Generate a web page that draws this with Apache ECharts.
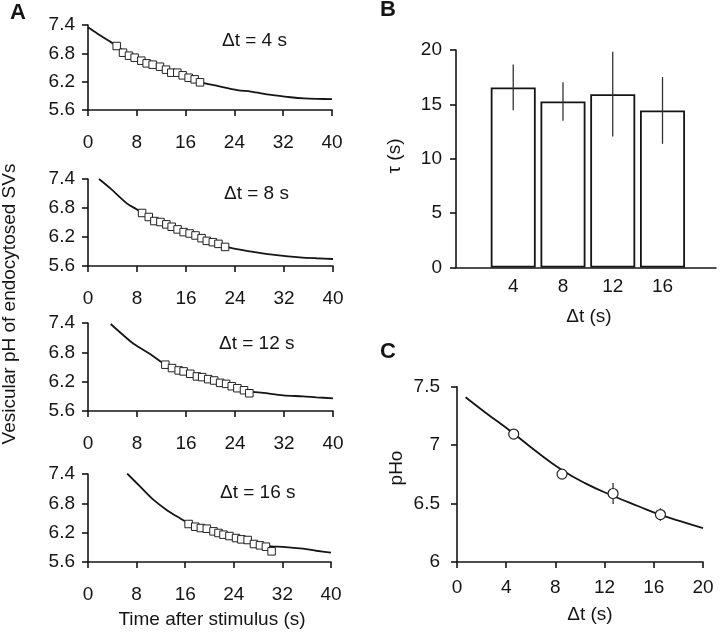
<!DOCTYPE html>
<html>
<head>
<meta charset="utf-8">
<script src="https://cdn.jsdelivr.net/npm/echarts@6/dist/echarts.min.js"></script>
<style>
html,body{margin:0;padding:0;background:#fff;}
#chart{width:720px;height:633px;}
</style>
</head>
<body>
<div id="chart"></div>
<script>
// ---------- Panel A data (time s, vesicular pH) ----------
const A_X_TICKS = [0, 8, 16, 24, 32, 40];
const A_Y_TICKS = [5.6, 6.2, 6.8, 7.4];
const A_LABELS = ['Δt = 4 s', 'Δt = 8 s', 'Δt = 12 s', 'Δt = 16 s'];

const A1_curve = [[0,7.35],[1.5,7.22],[3.2,7.08],[4.7,6.96],[6.7,6.77],[8.7,6.65],[10.6,6.56],[12.8,6.45],[14.6,6.38],[16.5,6.29],[18.4,6.19],[21.2,6.11],[24.5,6.02],[26.7,5.99],[30,5.92],[33.2,5.87],[35.4,5.845],[37.6,5.835],[40,5.83]];
const A1_t  = [4.7,5.74,6.72,7.65,8.74,9.62,10.6,11.8,12.79,13.66,14.64,15.52,16.5,17.49,18.36];
const A1_pH = [6.955,6.814,6.75,6.708,6.644,6.588,6.56,6.517,6.454,6.39,6.39,6.334,6.284,6.249,6.186];

const A2_curve = [[1.8,7.4],[3.7,7.2],[6.4,6.89],[8.0,6.77],[8.8,6.7],[10.8,6.55],[12.8,6.46],[14.6,6.36],[16.6,6.27],[18.5,6.18],[20.4,6.1],[22.4,6.0],[24.8,5.94],[27.5,5.884],[30.8,5.827],[34.6,5.78],[37.3,5.76],[40,5.745]];
const A2_t  = [8.83,9.92,10.84,11.82,12.79,13.66,14.63,15.61,16.59,17.56,18.54,19.4,20.38,21.3,22.38];
const A2_pH = [6.697,6.614,6.53,6.51,6.461,6.412,6.357,6.301,6.273,6.232,6.176,6.12,6.093,6.058,5.995];

const A3_curve = [[3.7,7.38],[5.5,7.18],[7.5,6.97],[10.2,6.76],[12.6,6.55],[14.8,6.43],[16.7,6.36],[18.6,6.29],[20.6,6.22],[22.5,6.155],[24.4,6.07],[26.3,6.0],[28.6,5.97],[31.9,5.92],[35.1,5.9],[37.3,5.88],[40,5.86]];
const A3_t  = [12.63,13.71,14.8,15.61,16.69,17.78,18.64,19.62,20.6,21.57,22.55,23.47,24.39,25.47,26.34];
const A3_pH = [6.547,6.478,6.43,6.41,6.361,6.307,6.293,6.252,6.224,6.176,6.155,6.107,6.066,6.025,5.963];

const A4_curve = [[6.45,7.41],[8.6,7.14],[10.8,6.87],[13,6.66],[15.2,6.49],[16.6,6.39],[18.6,6.3],[20.7,6.23],[22.3,6.16],[24.4,6.09],[26.3,6.03],[28.3,5.96],[30.2,5.92],[32.1,5.91],[35.4,5.872],[37.6,5.83],[40,5.79]];
const A4_t  = [16.56,17.65,18.58,19.56,20.66,21.48,22.3,23.28,24.37,25.25,26.28,27.32,28.31,29.29,30.22];
const A4_pH = [6.377,6.322,6.295,6.281,6.227,6.193,6.159,6.131,6.09,6.063,6.05,5.968,5.94,5.913,5.818];

// ---------- Panel B data ----------
const B_dt  = [4, 8, 12, 16];
const B_tau = [16.56, 15.27, 15.94, 14.44];
const B_err = [2.1, 1.77, 3.9, 3.07];
const B_Y_TICKS = [0, 5, 10, 15, 20];

// ---------- Panel C data ----------
const C_dt  = [4.61, 8.54, 12.69, 16.54];
const C_pHo = [7.095, 6.752, 6.586, 6.406];
const C_err = [0.03, 0.03, 0.089, 0.054];
const C_fit = [[0.7,7.41],[2.3,7.28],[4.6,7.10],[6.4,6.95],[8.5,6.79],[10.4,6.675],[12.7,6.565],[14.8,6.475],[16.5,6.405],[18.6,6.335],[20,6.29]];
const C_X_TICKS = [0, 4, 8, 12, 16, 20];
const C_Y_TICKS = [6, 6.5, 7, 7.5];

// ---------- styling ----------
const FONT = 'Liberation Sans, Arial, Helvetica, sans-serif';
const INK = '#151515';
const FS = 19;

const chart = echarts.init(document.getElementById('chart'), null, {renderer: 'canvas'});

const axisLine = {show: true, onZero: false, lineStyle: {color: INK, width: 1.6}};
function tick(vals, show) {
  return {show: show !== false, inside: false, length: 6, customValues: vals, lineStyle: {color: INK, width: 1.6}};
}
function label(vals, margin) {
  return {show: true, customValues: vals, margin: margin, color: INK, fontSize: FS, fontFamily: FONT};
}

const aGrids = [
  {left: 88, top: 25, width: 244, height: 85},
  {left: 88, top: 179, width: 245, height: 87},
  {left: 88, top: 323, width: 245, height: 88},
  {left: 88, top: 474, width: 243, height: 88}
];
const grids = aGrids.concat([
  {left: 456, top: 50, width: 260, height: 217.5},
  {left: 457, top: 386.7, width: 246, height: 175.3}
]).map(g => Object.assign({containLabel: false, outerBoundsMode: 'none'}, g));

const xAxes = [], yAxes = [];
for (let i = 0; i < 4; i++) {
  xAxes.push({type: 'value', gridIndex: i, min: 0, max: 40, axisLine, axisTick: tick(A_X_TICKS), axisLabel: label(A_X_TICKS, 23), splitLine: {show: false}});
  yAxes.push({type: 'value', gridIndex: i, min: 5.6, max: 7.4, axisLine, axisTick: tick(A_Y_TICKS), axisLabel: label(A_Y_TICKS, 13), splitLine: {show: false}});
}
xAxes.push({type: 'value', gridIndex: 4, min: -0.6, max: 20.3, axisLine, axisTick: {show: false}, axisLabel: label(B_dt, 10), splitLine: {show: false}});
yAxes.push({type: 'value', gridIndex: 4, min: 0, max: 20, axisLine, axisTick: tick(B_Y_TICKS), axisLabel: label(B_Y_TICKS, 14), splitLine: {show: false}});
xAxes.push({type: 'value', gridIndex: 5, min: 0, max: 20, axisLine, axisTick: tick(C_X_TICKS), axisLabel: label(C_X_TICKS, 16), splitLine: {show: false}});
yAxes.push({type: 'value', gridIndex: 5, min: 6, max: 7.5, axisLine, axisTick: tick(C_Y_TICKS), axisLabel: label(C_Y_TICKS, 17), splitLine: {show: false}});

const aCurves = [A1_curve, A2_curve, A3_curve, A4_curve];
const aT = [A1_t, A2_t, A3_t, A4_t];
const aPH = [A1_pH, A2_pH, A3_pH, A4_pH];

const series = [];
for (let i = 0; i < 4; i++) {
  series.push({type: 'line', xAxisIndex: i, yAxisIndex: i, data: aCurves[i], showSymbol: false, smooth: 0.3,
    lineStyle: {color: INK, width: 1.8}, z: 2});
  series.push({type: 'scatter', xAxisIndex: i, yAxisIndex: i, data: aT[i].map((t, k) => [t, aPH[i][k]]),
    symbol: 'rect', symbolSize: 7.5, itemStyle: {color: '#fff', opacity: 1, borderColor: '#222', borderWidth: 1}, z: 3});
}

function errBar(color, width) {
  return function (params, api) {
    const x = api.value(0);
    const p1 = api.coord([x, api.value(1)]);
    const p2 = api.coord([x, api.value(2)]);
    return {type: 'line', shape: {x1: p1[0], y1: p1[1], x2: p2[0], y2: p2[1]}, style: {stroke: color, lineWidth: width}};
  };
}

// Panel B
series.push({type: 'bar', xAxisIndex: 4, yAxisIndex: 4, data: B_dt.map((d, k) => [d, B_tau[k]]), barWidth: 45,
  itemStyle: {color: '#fff', borderColor: INK, borderWidth: 1.8}, z: 2});
series.push({type: 'custom', xAxisIndex: 4, yAxisIndex: 4, renderItem: errBar('#333', 1.3),
  data: B_dt.map((d, k) => [d, B_tau[k] - B_err[k], B_tau[k] + B_err[k]]), encode: {x: 0, y: [1, 2]}, z: 4});

// Panel C
series.push({type: 'line', xAxisIndex: 5, yAxisIndex: 5, data: C_fit, showSymbol: false, smooth: 0.5,
  lineStyle: {color: INK, width: 1.8}, z: 2});
series.push({type: 'custom', xAxisIndex: 5, yAxisIndex: 5, renderItem: errBar('#333', 1.3),
  data: C_dt.map((d, k) => [d, C_pHo[k] - C_err[k], C_pHo[k] + C_err[k]]), encode: {x: 0, y: [1, 2]}, z: 3});
series.push({type: 'scatter', xAxisIndex: 5, yAxisIndex: 5, data: C_dt.map((d, k) => [d, C_pHo[k]]),
  symbol: 'circle', symbolSize: 10, itemStyle: {color: '#fff', opacity: 1, borderColor: '#222', borderWidth: 1.2}, z: 4});

function txt(text, x, y, opts) {
  opts = opts || {};
  return {
    type: 'text', x: x, y: y, rotation: opts.rot || 0, z: 10,
    style: {
      text: text, fill: INK,
      font: (opts.bold ? 'bold ' : '') + (opts.size || FS) + 'px ' + FONT,
      align: opts.align || 'center', verticalAlign: 'middle',
      textAlign: opts.align || 'center', textVerticalAlign: 'middle'
    }
  };
}

const aLabelPos = [[222, 41], [224, 194], [219, 344], [220, 493]];
const graphics = [
  txt('A', 18, 13, {bold: true, size: 22}),
  txt('B', 388, 10, {bold: true, size: 22}),
  txt('C', 388, 352, {bold: true, size: 22}),
  txt('Vesicular pH of endocytosed SVs', 10, 304, {rot: Math.PI / 2}),
  txt('Time after stimulus (s)', 212, 620),
  txt('τ (s)', 395, 156, {rot: Math.PI / 2}),
  txt('Δt (s)', 589, 317),
  txt('Δt (s)', 590, 615),
  txt('pHo', 397, 468, {rot: Math.PI / 2})
];
A_LABELS.forEach((s, i) => graphics.push(txt(s, aLabelPos[i][0], aLabelPos[i][1], {align: 'left'})));

chart.setOption({
  animation: false,
  backgroundColor: '#fff',
  grid: grids,
  xAxis: xAxes,
  yAxis: yAxes,
  series: series,
  graphic: {elements: graphics}
});
</script>
</body>
</html>
